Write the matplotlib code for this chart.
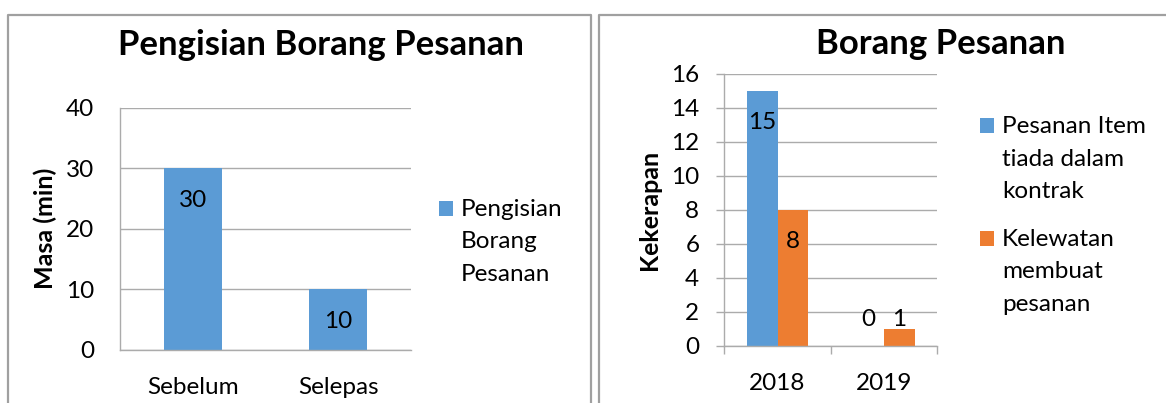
import matplotlib
matplotlib.use("Agg")
import matplotlib.pyplot as plt
from matplotlib.patches import Rectangle
from matplotlib.lines import Line2D
import numpy as np

# ---------------- data ----------------
left_title = "Pengisian Borang Pesanan"
left_categories = ["Sebelum", "Selepas"]
left_series_label = "Pengisian\nBorang\nPesanan"
left_values = [30, 10]
left_ylabel = "Masa (min)"
left_yticks = [0, 10, 20, 30, 40]

right_title = "Borang Pesanan"
right_categories = ["2018", "2019"]
right_series_labels = ["Pesanan Item\ntiada dalam\nkontrak", "Kelewatan\nmembuat\npesanan"]
right_series_a = [15, 0]
right_series_b = [8, 1]
right_ylabel = "Kekerapan"
right_yticks = [0, 2, 4, 6, 8, 10, 12, 14, 16]

# ---------------- style ----------------
W, H = 1166, 403
BLUE = "#5B9BD5"
ORANGE = "#ED7D31"
GRID = "#ABABAB"
BORDER = "#A0A0A0"
FS = 17.5
TFS = 25
LFS = 18
plt.rcParams["font.family"] = ["Lato", "DejaVu Sans"]
PT = 0.72  # points per pixel at dpi 100

fig = plt.figure(figsize=(W / 100, H / 100), dpi=100)


def fx(px):
    return px / W


def fy(py):
    return 1 - py / H


# panel borders
fig.add_artist(Line2D([fx(8), fx(8), fx(591), fx(591)], [fy(410), fy(15), fy(15), fy(410)],
                      transform=fig.transFigure, color=BORDER, lw=1.6))
fig.add_artist(Line2D([fx(599), fx(599), fx(1175)], [fy(410), fy(15), fy(15)],
                      transform=fig.transFigure, color=BORDER, lw=1.6))


def style_axes(ax):
    for s in ("top", "right"):
        ax.spines[s].set_visible(False)
    for s in ("left", "bottom"):
        ax.spines[s].set_color(GRID)
        ax.spines[s].set_linewidth(1.0)
    ax.grid(axis="y", color=GRID, linewidth=1.0, zorder=0)
    ax.set_axisbelow(True)


def label_bars(ax, xs, vals):
    for x, v in zip(xs, vals):
        if v >= 3:
            ax.annotate(str(v), (x, v), xytext=(0, -38.5 * PT), textcoords="offset points",
                        ha="center", va="baseline", fontsize=FS, color="black")
        else:
            ax.annotate(str(v), (x, max(v, 1)), xytext=(0, 2.5 * PT), textcoords="offset points",
                        ha="center", va="baseline", fontsize=FS, color="black")


def draw_legend(x_sq, y_sq_top, color, label):
    fig.add_artist(Rectangle((fx(x_sq), fy(y_sq_top + 15)), 14 / W, 15 / H,
                             transform=fig.transFigure, facecolor=color, edgecolor="none"))
    for i, line in enumerate(label.split("\n")):
        fig.text(fx(x_sq + 22), fy(y_sq_top + 15 + i * 32.5), line, fontsize=FS,
                 ha="left", va="baseline", color="black")


# ---------------- left chart ----------------
ax1 = fig.add_axes([fx(120), fy(349.5), (411 - 120) / W, (349.5 - 107.7) / H])
x1 = np.arange(len(left_categories))
ax1.bar(x1, left_values, width=0.4, color=BLUE, zorder=2)
ax1.set_xlim(-0.5, len(left_categories) - 0.5)
ax1.set_ylim(0, 40)
ax1.set_yticks(left_yticks)
ax1.set_xticks(x1)
ax1.set_xticklabels(left_categories)
style_axes(ax1)
ax1.tick_params(axis="y", length=0, pad=26 * PT, labelsize=FS)
ax1.tick_params(axis="x", length=0, pad=27 * PT, labelsize=FS)
label_bars(ax1, x1, left_values)
ax1.set_ylabel(left_ylabel, fontsize=LFS, fontweight="bold", va="center")
ax1.yaxis.set_label_coords(-0.258, 0.5)
ax1.set_title(left_title, fontsize=TFS, fontweight="bold", x=0.69, y=1.22, va="baseline", pad=0)
draw_legend(439, 201, BLUE, left_series_label)

# ---------------- right chart ----------------
ax2 = fig.add_axes([fx(724.3), fy(345.7), (937.3 - 724.3) / W, (345.7 - 74) / H])
x2 = np.arange(len(right_categories))
bw = 0.288
ax2.bar(x2 - bw / 2, right_series_a, width=bw, color=BLUE, zorder=2)
ax2.bar(x2 + bw / 2, right_series_b, width=bw, color=ORANGE, zorder=2)
ax2.set_xlim(-0.5, len(right_categories) - 0.5)
ax2.set_ylim(0, 16)
ax2.set_yticks(right_yticks)
ax2.set_xticks(x2)
ax2.set_xticklabels(right_categories)
ax2.set_xticks(np.arange(len(right_categories) + 1) - 0.5, minor=True)
style_axes(ax2)
ax2.tick_params(axis="y", length=8 * PT, width=1.0, color=GRID, pad=17 * PT, labelsize=FS)
ax2.tick_params(axis="x", which="major", length=0, pad=27 * PT, labelsize=FS)
ax2.tick_params(axis="x", which="minor", length=8 * PT, width=1.0, color=GRID)
label_bars(ax2, x2 - bw / 2, right_series_a)
label_bars(ax2, x2 + bw / 2, right_series_b)
ax2.set_ylabel(right_ylabel, fontsize=LFS, fontweight="bold", va="center")
ax2.yaxis.set_label_coords(-0.353, 0.5)
ax2.set_title(right_title, fontsize=TFS, fontweight="bold", x=1.017, y=1.0725, va="baseline", pad=0)
draw_legend(980, 118, BLUE, right_series_labels[0])
draw_legend(980, 231, ORANGE, right_series_labels[1])

fig.savefig("out.png", dpi=100)
